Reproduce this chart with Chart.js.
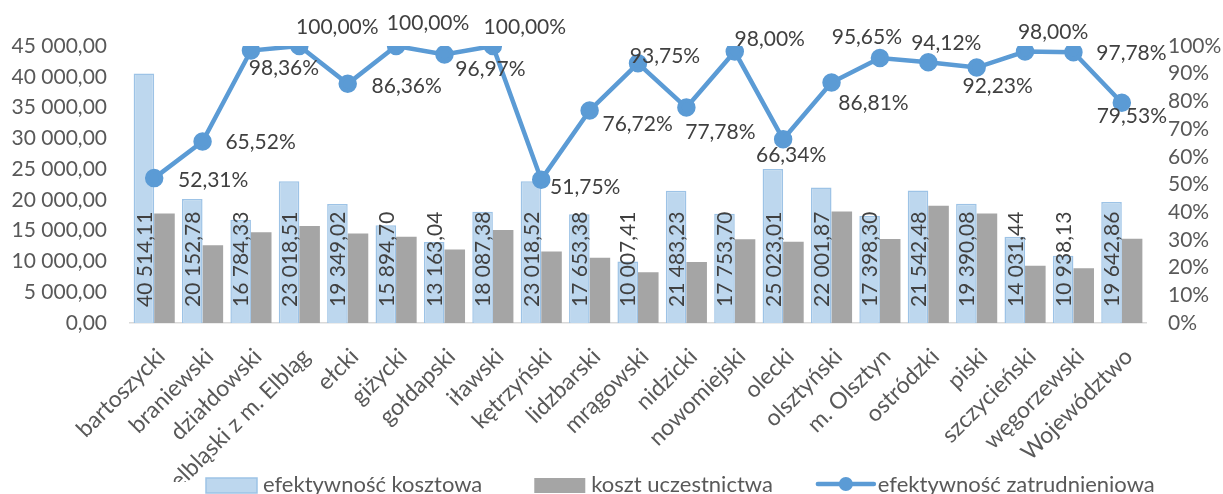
<!DOCTYPE html>
<html>
<head>
<meta charset="utf-8">
<script src="https://cdn.jsdelivr.net/npm/chart.js@4.4.0/dist/chart.umd.min.js"></script>
<style>
    html, body { margin: 0; padding: 0; background: #fff; }
</style>
</head>
<body>
<canvas id="myChart" width="1223" height="494"></canvas>
<script>
const categories = ["bartoszycki", "braniewski", "działdowski", "elbląski z m. Elbląg", "ełcki", "giżycki", "gołdapski", "iławski", "kętrzyński", "lidzbarski", "mrągowski", "nidzicki", "nowomiejski", "olecki", "olsztyński", "m. Olsztyn", "ostródzki", "piski", "szczycieński", "węgorzewski", "Województwo"];
const costEfficiency = [40514.11, 20152.78, 16784.33, 23018.51, 19349.02, 15894.70, 13163.04, 18087.38, 23018.52, 17653.38, 10007.41, 21483.23, 17753.70, 25023.01, 22001.87, 17398.30, 21542.48, 19390.08, 14031.44, 10938.13, 19642.86];
const participationCost = [17800, 12650, 14750, 15750, 14550, 14000, 11950, 15100, 11600, 10600, 8250, 9900, 13600, 13200, 18100, 13650, 19050, 17800, 9300, 8900, 13700];
const employmentEfficiency = [0.5231, 0.6552, 0.9836, 1.0, 0.8636, 1.0, 0.9697, 1.0, 0.5175, 0.7672, 0.9375, 0.7778, 0.98, 0.6634, 0.8681, 0.9565, 0.9412, 0.9223, 0.98, 0.9778, 0.7953];
const leftTicks = [0, 5000, 10000, 15000, 20000, 25000, 30000, 35000, 40000, 45000];
const rightTicks = [0, 0.1, 0.2, 0.3, 0.4, 0.5, 0.6, 0.7, 0.8, 0.9, 1.0];
const seriesNames = ["efektywność kosztowa", "koszt uczestnictwa", "efektywność zatrudnieniowa"];

// where each percentage label sits relative to its point (hand placed, like in the original)
const lineLabelOffsets = [[59, 2], [58, 1], [33, 18], [38, -19], [59, 2], [32, -23], [46, 15], [32, -19], [44, 8], [48, 14], [27, -7], [34, 25], [35, -12], [8, 16], [42, 21], [-13, -21], [18, -19], [21, 19], [28, -19], [58, 1], [10, 14]];

const FONT = "Lato";
const TEXT = "#595959";
const LABEL = "#404040";
const BLUE_FILL = "#BDD7EE";
const BLUE_EDGE = "#9DC3E6";
const GREY = "#A5A5A5";
const LINE = "#5B9BD5";

function fmtNumber(v) {
    const parts = v.toFixed(2).split(".");
    return parts[0].replace(/\B(?=(\d{3})+(?!\d))/g, " ") + "," + parts[1];
}
function fmtPercent(v) {
    return (v * 100).toFixed(2).replace(".", ",") + "%";
}

const labelsPlugin = {
    id: "valueLabels",
    afterDatasetsDraw(chart) {
        const ctx = chart.ctx;
        const bottom = chart.chartArea.bottom;
        ctx.save();
        ctx.font = "21px " + FONT;
        ctx.fillStyle = LABEL;

        chart.getDatasetMeta(0).data.forEach((bar, i) => {
            ctx.save();
            ctx.translate(bar.x, bottom - 16);
            ctx.rotate(-Math.PI / 2);
            ctx.textAlign = "left";
            ctx.textBaseline = "middle";
            ctx.fillText(fmtNumber(costEfficiency[i]), 0, 1);
            ctx.restore();
        });

        ctx.textAlign = "center";
        ctx.textBaseline = "middle";
        chart.getDatasetMeta(2).data.forEach((pt, i) => {
            const off = lineLabelOffsets[i];
            ctx.fillText(fmtPercent(employmentEfficiency[i]), pt.x + off[0], pt.y + off[1]);
        });
        ctx.restore();
    }
};

const legendPlugin = {
    id: "bottomLegend",
    afterDraw(chart) {
        const ctx = chart.ctx;
        const y = 485;
        ctx.save();
        ctx.font = "22px " + FONT;
        ctx.textBaseline = "middle";
        ctx.textAlign = "left";
        let x = 206;

        ctx.fillStyle = BLUE_FILL;
        ctx.strokeStyle = BLUE_EDGE;
        ctx.lineWidth = 1.5;
        ctx.fillRect(x, y - 7, 51, 15);
        ctx.strokeRect(x, y - 7, 51, 15);
        ctx.fillStyle = TEXT;
        ctx.fillText(seriesNames[0], x + 57, y);
        x += 57 + ctx.measureText(seriesNames[0]).width + 52;

        ctx.fillStyle = GREY;
        ctx.fillRect(x, y - 7, 51, 15);
        ctx.fillStyle = TEXT;
        ctx.fillText(seriesNames[1], x + 57, y);
        x += 57 + ctx.measureText(seriesNames[1]).width + 45;

        ctx.strokeStyle = LINE;
        ctx.lineWidth = 4.5;
        ctx.lineCap = "round";
        ctx.beginPath();
        ctx.moveTo(x, y - 1);
        ctx.lineTo(x + 56, y - 1);
        ctx.stroke();
        ctx.fillStyle = LINE;
        ctx.beginPath();
        ctx.arc(x + 28, y - 1, 7, 0, Math.PI * 2);
        ctx.fill();
        ctx.fillStyle = TEXT;
        ctx.fillText(seriesNames[2], x + 60, y);
        ctx.restore();
    }
};

function createChart() {
    const el = document.getElementById("myChart").getContext("2d");
    return new Chart(el, {
        data: {
            labels: categories,
            datasets: [{
                type: "bar",
                label: seriesNames[0],
                data: costEfficiency,
                backgroundColor: BLUE_FILL,
                borderColor: BLUE_EDGE,
                borderWidth: 1.5,
                yAxisID: "y",
                order: 2
            }, {
                type: "bar",
                label: seriesNames[1],
                data: participationCost,
                backgroundColor: GREY,
                borderWidth: 0,
                yAxisID: "y",
                order: 2
            }, {
                type: "line",
                label: seriesNames[2],
                data: employmentEfficiency,
                borderColor: LINE,
                backgroundColor: LINE,
                borderWidth: 4.5,
                pointRadius: 7,
                pointHoverRadius: 7,
                pointBackgroundColor: LINE,
                pointBorderColor: LINE,
                tension: 0,
                yAxisID: "y1",
                order: 0
            }]
        },
        options: {
            responsive: false,
            animation: false,
            devicePixelRatio: 1,
            datasets: {
                bar: { barPercentage: 1, categoryPercentage: 0.85 }
            },
            layout: { padding: { top: 46, bottom: 12, left: 0, right: 0 } },
            plugins: {
                legend: { display: false },
                tooltip: { enabled: false }
            },
            scales: {
                x: {
                    type: "category",
                    offset: true,
                    grid: { display: false, drawTicks: false },
                    border: { color: "#D9D9D9", width: 1.5 },
                    ticks: {
                        autoSkip: false,
                        minRotation: 45,
                        maxRotation: 45,
                        padding: 20,
                        labelOffset: 7,
                        color: TEXT,
                        font: { family: FONT, size: 23 }
                    },
                    afterFit(scale) { scale.height = 159; }
                },
                y: {
                    position: "left",
                    min: 0,
                    max: 45000,
                    grid: { display: false, drawTicks: false },
                    border: { display: false },
                    afterBuildTicks(scale) { scale.ticks = leftTicks.map(v => ({ value: v })); },
                    ticks: {
                        autoSkip: false,
                        padding: 23,
                        color: TEXT,
                        font: { family: FONT, size: 21 },
                        callback: v => fmtNumber(v)
                    },
                    afterFit(scale) { scale.width = 130; }
                },
                y1: {
                    position: "right",
                    min: 0,
                    max: 1,
                    grid: { display: false, drawTicks: false },
                    border: { display: false },
                    afterBuildTicks(scale) { scale.ticks = rightTicks.map(v => ({ value: v })); },
                    ticks: {
                        autoSkip: false,
                        padding: 22,
                        color: TEXT,
                        font: { family: FONT, size: 21 },
                        callback: v => Math.round(v * 100) + "%"
                    },
                    afterFit(scale) { scale.width = 77; }
                }
            }
        },
        plugins: [labelsPlugin, legendPlugin]
    });
}

let chartInit;
function app() {
    chartInit = createChart();
}

if (document.fonts && document.fonts.load) {
    document.fonts.load("21px " + FONT).then(app, app);
} else {
    app();
}
</script>
</body>
</html>
